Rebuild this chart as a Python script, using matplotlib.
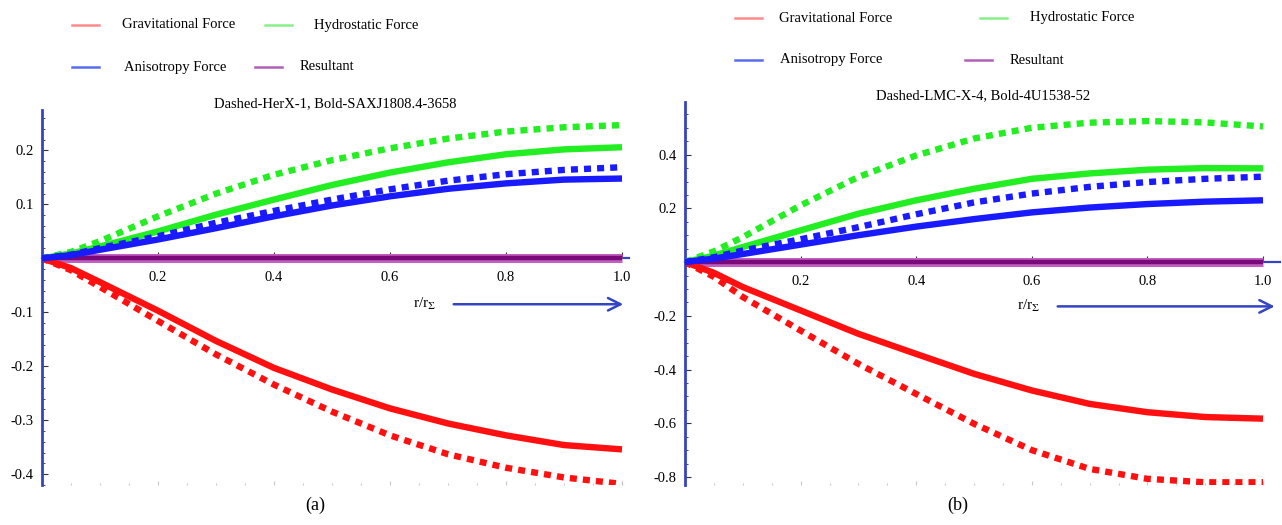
import matplotlib
matplotlib.use("Agg")
import matplotlib.pyplot as plt
from matplotlib.lines import Line2D
from matplotlib.ticker import MultipleLocator, NullFormatter

plt.rcParams["font.family"] = ["Liberation Serif", "DejaVu Serif"]
plt.rcParams["mathtext.fontset"] = "stix"

W, H = 1282, 525

# radial coordinate r / r_Sigma
r = [0, 0.05, 0.1, 0.2, 0.3, 0.4, 0.5, 0.6, 0.7, 0.8, 0.9, 1.0]

# (a) dashed = HerX-1, bold = SAXJ1808.4-3658
grav_dashed_a = [0, -0.022, -0.053, -0.116, -0.178, -0.234, -0.284, -0.328, -0.363, -0.388, -0.406, -0.418]
grav_bold_a = [0, -0.018, -0.044, -0.097, -0.153, -0.203, -0.243, -0.278, -0.306, -0.328, -0.346, -0.354]
hydro_dashed_a = [0, 0.012, 0.032, 0.078, 0.120, 0.155, 0.182, 0.204, 0.222, 0.235, 0.243, 0.247]
hydro_bold_a = [0, 0.009, 0.022, 0.050, 0.081, 0.109, 0.136, 0.159, 0.178, 0.193, 0.202, 0.206]
aniso_dashed_a = [0, 0.007, 0.019, 0.041, 0.066, 0.088, 0.109, 0.128, 0.144, 0.156, 0.164, 0.169]
aniso_bold_a = [0, 0.006, 0.016, 0.035, 0.056, 0.078, 0.098, 0.115, 0.129, 0.139, 0.146, 0.148]
result_a = [0] * len(r)

# (b) dashed = LMC-X-4, bold = 4U1538-52
grav_dashed_b = [0, -0.055, -0.130, -0.255, -0.379, -0.491, -0.602, -0.700, -0.770, -0.807, -0.820, -0.820]
grav_bold_b = [0, -0.040, -0.093, -0.180, -0.267, -0.342, -0.416, -0.478, -0.528, -0.559, -0.577, -0.583]
hydro_dashed_b = [0, 0.040, 0.093, 0.211, 0.317, 0.397, 0.460, 0.500, 0.519, 0.525, 0.520, 0.505]
hydro_bold_b = [0, 0.024, 0.056, 0.118, 0.180, 0.230, 0.273, 0.310, 0.330, 0.344, 0.350, 0.349]
aniso_dashed_b = [0, 0.018, 0.043, 0.085, 0.130, 0.178, 0.222, 0.255, 0.280, 0.298, 0.310, 0.318]
aniso_bold_b = [0, 0.013, 0.030, 0.065, 0.100, 0.132, 0.160, 0.185, 0.203, 0.216, 0.225, 0.230]
result_b = [0] * len(r)

legend_labels = ["Gravitational Force", "Hydrostatic Force", "Anisotropy Force", "Resultant"]
titles = ["Dashed-HerX-1, Bold-SAXJ1808.4-3658", "Dashed-LMC-X-4, Bold-4U1538-52"]

RED, GREEN, BLUE, PURPLE = "#ff1010", "#22ee22", "#1a1aff", "#7a0a7a"
AXIS = "#3444c4"
LEG_COLORS = ["#ff8a8a", "#88f088", "#5a6cf0", "#b060b8"]

fig = plt.figure(figsize=(W / 100, H / 100), dpi=100)
fig.patch.set_facecolor("white")


def px_ax(left, top, right, bottom):
    return fig.add_axes([left / W, 1 - bottom / H, (right - left) / W, (bottom - top) / H])


def draw_panel(ax, series, xlim, ylim, ymaj, ymin, title, arrow_y, arrow_x0, label_x):
    grav_d, grav_b, hyd_d, hyd_b, ani_d, ani_b, res = series
    lw = 4.6
    dash = dict(linestyle=(0, (1.1, 0.95)), dash_capstyle="butt", lw=lw)

    ax.plot(r, res, color="#c060c0", lw=6.5, solid_capstyle="butt", zorder=2)
    ax.plot(r, res, color=PURPLE, lw=3.2, solid_capstyle="butt", zorder=3)

    ax.plot(r, grav_b, color=RED, lw=lw, solid_capstyle="butt", zorder=4)
    ax.plot(r, grav_d, color=RED, zorder=4, **dash)
    ax.plot(r, hyd_b, color=GREEN, lw=lw, solid_capstyle="butt", zorder=4)
    ax.plot(r, hyd_d, color=GREEN, zorder=4, **dash)
    ax.plot(r, ani_b, color=BLUE, lw=lw, solid_capstyle="butt", zorder=4)
    ax.plot(r, ani_d, color=BLUE, zorder=4, **dash)

    ax.set_xlim(*xlim)
    ax.set_ylim(*ylim)

    for side in ("top", "right"):
        ax.spines[side].set_visible(False)
    ax.spines["left"].set_position(("data", 0))
    ax.spines["left"].set_color(AXIS)
    ax.spines["left"].set_linewidth(2.0)
    ax.spines["bottom"].set_position(("data", 0))
    ax.spines["bottom"].set_color(AXIS)
    ax.spines["bottom"].set_linewidth(1.6)
    ax.spines["bottom"].set_zorder(1)

    ax.xaxis.set_major_locator(MultipleLocator(0.2))
    ax.xaxis.set_minor_locator(MultipleLocator(0.05))
    ax.yaxis.set_major_locator(MultipleLocator(ymaj))
    ax.yaxis.set_minor_locator(MultipleLocator(ymin))
    ax.xaxis.set_major_formatter(plt.FuncFormatter(lambda v, p: "" if abs(v) < 1e-9 else f"{v:.1f}"))
    ax.yaxis.set_major_formatter(plt.FuncFormatter(lambda v, p: "" if abs(v) < 1e-9 else f"{v:.1f}"))
    ax.tick_params(axis="both", which="both", direction="in", color="#333333", labelsize=10.5)
    ax.tick_params(axis="both", which="major", length=4, width=0.8)
    ax.tick_params(axis="both", which="minor", length=2.2, width=0.6)
    ax.tick_params(axis="x", pad=9)
    ax.tick_params(axis="y", pad=6)

    # faint frame ticks along the bottom edge
    sec = ax.secondary_xaxis(0)
    sec.spines["bottom"].set_visible(False)
    sec.xaxis.set_major_locator(MultipleLocator(0.2))
    sec.xaxis.set_minor_locator(MultipleLocator(0.05))
    sec.xaxis.set_major_formatter(NullFormatter())
    sec.tick_params(which="both", direction="in", color="#c8c8c8", width=0.8)
    sec.tick_params(which="major", length=3)
    sec.tick_params(which="minor", length=1.5)

    ax.set_title(title, fontsize=10.5, pad=2)

    ax.annotate("", xy=(xlim[1] - 0.005, arrow_y), xytext=(arrow_x0, arrow_y),
                arrowprops=dict(arrowstyle="->,head_length=0.9,head_width=0.45",
                                color=AXIS, lw=1.8))
    ax.text(label_x, arrow_y, r"r/r$_{\Sigma}$", fontsize=11, ha="center", va="center")


def draw_legend(y_rows, cols):
    # two rows x two columns of short line + label, positions in pixels
    for i, (label, col) in enumerate(zip(legend_labels, LEG_COLORS)):
        row, c = divmod(i, 2)
        lx, tx = cols[row][c]
        y = y_rows[row]
        fig.add_artist(Line2D([lx / W, (lx + 27) / W], [1 - y / H, 1 - y / H],
                              transform=fig.transFigure, color=col, lw=1.8))
        fig.text(tx / W, 1 - y / H, label, fontsize=10.5, va="center", ha="left")


ax_a = px_ax(42, 110, 42 + 580 * 1.012, 485)
draw_panel(ax_a,
           (grav_dashed_a, grav_bold_a, hydro_dashed_a, hydro_bold_a, aniso_dashed_a, aniso_bold_a, result_a),
           (0, 1.012), (-0.42, 0.275), 0.1, 0.02, titles[0],
           arrow_y=-0.085, arrow_x0=0.705, label_x=0.66)

ax_b = px_ax(685, 102, 685 + 578 * 1.03, 485)
draw_panel(ax_b,
           (grav_dashed_b, grav_bold_b, hydro_dashed_b, hydro_bold_b, aniso_dashed_b, aniso_bold_b, result_b),
           (0, 1.03), (-0.83, 0.596), 0.2, 0.05, titles[1],
           arrow_y=-0.165, arrow_x0=0.64, label_x=0.595)

draw_legend([25, 67], [[(72, 122), (265, 314)], [(72, 124), (255, 300)]])
draw_legend([18, 60], [[(735, 779), (980, 1030)], [(735, 780), (965, 1010)]])

fig.text(315 / W, 1 - 505 / H, "(a)", fontsize=13, ha="center", va="center")
fig.text(958 / W, 1 - 505 / H, "(b)", fontsize=13, ha="center", va="center")

fig.savefig("out.png", dpi=100, facecolor="white")
